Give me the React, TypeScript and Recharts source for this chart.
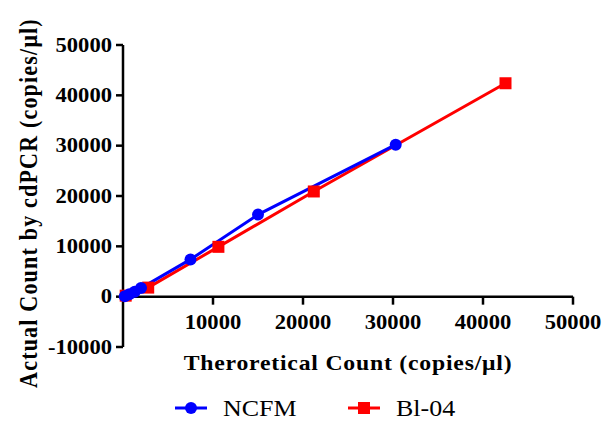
import React from "react";
import { LineChart, Line, XAxis, YAxis, ReferenceLine } from "recharts";

// theoretical vs measured counts (copies/µl)
const ncfmX = [200, 700, 1300, 2000, 7500, 15000, 30300];
const ncfmY = [100, 500, 1000, 1700, 7400, 16300, 30200];
const b104X = [300, 2800, 10600, 21200, 42500];
const b104Y = [200, 1800, 9900, 20900, 42400];

const xTicks = [10000, 20000, 30000, 40000, 50000];
const yTicks = [-10000, 0, 10000, 20000, 30000, 40000, 50000];

const ncfmData = ncfmX.map((x, i) => ({ x, y: ncfmY[i] }));
const b104Data = b104X.map((x, i) => ({ x, y: b104Y[i] }));

const FONT = "'Liberation Serif', 'Times New Roman', serif";
const W = 606;
const H = 423;
const MARGIN = { top: 45, right: 33, bottom: 46, left: 23 };
const X_AXIS_H = 30;
// plot height, and how far the zero line sits above the plot bottom
const PLOT_H = H - MARGIN.top - MARGIN.bottom - X_AXIS_H;
const ZERO_UP = (PLOT_H * 10000) / 60000;

const BLUE = "#0000ff";
const RED = "#ff0000";

const Square = (props: any) => {
  const { cx, cy, fill } = props;
  if (cx == null || cy == null) return <g />;
  return <rect x={cx - 6} y={cy - 6} width={12} height={12} fill={fill} />;
};

const YTick = (props: any) => {
  const { x, y, payload } = props;
  return (
    <g transform={`translate(${x},${y}) scale(1.13,1)`}>
      <text
        textAnchor="end"
        dominantBaseline="central"
        fontFamily={FONT}
        fontWeight="bold"
        fontSize={20}
        fill="#000"
      >
        {payload.value}
      </text>
    </g>
  );
};

const XTick = (props: any) => {
  const { x, y, payload } = props;
  // recharts places y below the plot bottom; pull it up to the zero line
  const y0 = y - 8 - ZERO_UP;
  return (
    <g>
      <line x1={x} x2={x} y1={y0} y2={y0 + 8} stroke="#000" strokeWidth={2.5} />
      <g transform={`translate(${x},${y0 + 26}) scale(1.13,1)`}>
        <text
          textAnchor="middle"
          dominantBaseline="central"
          fontFamily={FONT}
          fontWeight="bold"
          fontSize={20}
          fill="#000"
        >
          {payload.value}
        </text>
      </g>
    </g>
  );
};

const XTitle = (props: any) => {
  const { viewBox } = props;
  const cx = viewBox.x + viewBox.width / 2;
  return (
    <g transform={`translate(${cx},${viewBox.y + 16}) scale(1.13,1)`}>
      <text
        textAnchor="middle"
        dominantBaseline="central"
        fontFamily={FONT}
        fontWeight="bold"
        fontSize={21}
        letterSpacing={0.7}
        fill="#000"
      >
        Theroretical Count (copies/μl)
      </text>
    </g>
  );
};

const YTitle = () => (
  <g transform="translate(29,203) rotate(-90) scale(1,1.13)">
    <text
      textAnchor="middle"
      dominantBaseline="central"
      fontFamily={FONT}
      fontWeight="bold"
      fontSize={22}
      letterSpacing={1.2}
      fill="#000"
    >
      Actual Count by cdPCR (copies/μl)
    </text>
  </g>
);

const legendItems = [
  { name: "NCFM", color: BLUE, shape: "circle", x: 175 },
  { name: "Bl-04", color: RED, shape: "square", x: 348 },
];

const LegendBox = () => (
  <g>
    {legendItems.map((it) => (
      <g key={it.name} transform={`translate(${it.x},408)`}>
        <line x1={0} x2={32} y1={0} y2={0} stroke={it.color} strokeWidth={3} />
        {it.shape === "circle" ? (
          <circle cx={16} cy={0} r={6} fill={it.color} />
        ) : (
          <rect x={10} y={-6} width={12} height={12} fill={it.color} />
        )}
        <g transform="translate(48,0) scale(1.13,1)">
          <text dominantBaseline="central" fontFamily={FONT} fontSize={23} fill="#000">
            {it.name}
          </text>
        </g>
      </g>
    ))}
  </g>
);

export default function App() {
  return (
    <div style={{ position: "absolute", left: 0, top: 0, width: W, height: H, background: "#fff" }}>
      <LineChart width={W} height={H} margin={MARGIN}>
        <XAxis
          dataKey="x"
          type="number"
          domain={[0, 50000]}
          ticks={xTicks}
          axisLine={false}
          tickLine={false}
          height={X_AXIS_H}
          tick={<XTick />}
          interval={0}
          allowDuplicatedCategory={false}
          label={<XTitle />}
        />
        <YAxis
          type="number"
          domain={[-10000, 50000]}
          ticks={yTicks}
          width={100}
          interval={0}
          axisLine={{ stroke: "#000", strokeWidth: 2.5 }}
          tickLine={{ stroke: "#000", strokeWidth: 2.5 }}
          tickSize={7}
          tickMargin={4}
          tick={<YTick />}
        />
        <ReferenceLine y={0} stroke="#000" strokeWidth={2.5} />
        <Line
          data={b104Data}
          dataKey="y"
          name="Bl-04"
          stroke={RED}
          strokeWidth={3}
          fill={RED}
          dot={<Square />}
          activeDot={false}
          isAnimationActive={false}
        />
        <Line
          data={ncfmData}
          dataKey="y"
          name="NCFM"
          stroke={BLUE}
          strokeWidth={3}
          dot={{ r: 6, fill: BLUE, stroke: BLUE, strokeWidth: 0 }}
          activeDot={false}
          isAnimationActive={false}
        />
      </LineChart>
      <svg
        width={W}
        height={H}
        style={{ position: "absolute", left: 0, top: 0, pointerEvents: "none" }}
      >
        <YTitle />
        <LegendBox />
      </svg>
    </div>
  );
}
